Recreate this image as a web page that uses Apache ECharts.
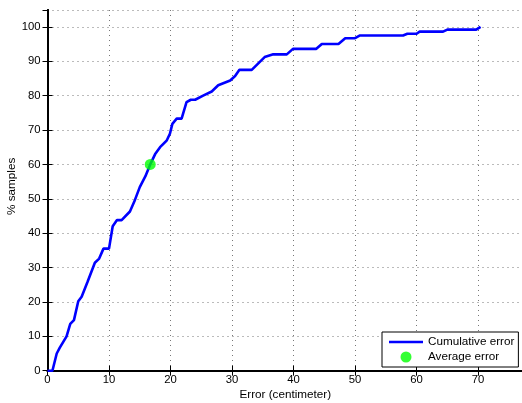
<!DOCTYPE html>
<html>
<head>
<meta charset="utf-8">
<script src="https://cdn.jsdelivr.net/npm/echarts@6/dist/echarts.min.js"></script>
<style>
html,body{margin:0;padding:0;background:#fff;}
#c{width:522px;height:403px;}
</style>
</head>
<body>
<div id="c"></div>
<script>
// Cumulative error curve (x: error in cm, y: % samples)
var errorCm = [0, 0.8, 1.5, 2.0, 3.1, 3.7, 4.3, 5.0, 5.55, 6.5, 7.7, 8.4, 9.1, 10.0, 10.6, 11.3, 12.05, 13.4, 14.2, 15.0, 15.9, 16.7, 17.5, 18.3, 19.4, 19.9, 20.3, 21.0, 21.8, 22.6, 23.3, 24.0, 25.3, 26.7, 27.75, 29.7, 30.5, 31.2, 33.2, 35.3, 36.7, 38.9, 39.9, 43.7, 44.6, 47.3, 48.4, 50.0, 50.8, 57.8, 58.5, 60.0, 60.5, 64.3, 65.0, 69.7, 70.4];
var pctSamples = [0, 0, 5.0, 6.7, 10.0, 13.6, 14.7, 20.2, 21.5, 25.8, 31.4, 32.6, 35.5, 35.5, 42.0, 43.8, 43.8, 46.3, 49.6, 53.4, 56.5, 60.0, 63.0, 65.0, 67.0, 68.9, 71.8, 73.3, 73.3, 78.1, 78.8, 78.8, 80.0, 81.2, 83.0, 84.4, 85.7, 87.5, 87.5, 91.2, 92.0, 92.0, 93.6, 93.6, 95.0, 95.0, 96.7, 96.7, 97.5, 97.5, 98.0, 98.0, 98.6, 98.6, 99.2, 99.2, 100];
var averageError = [16.7, 60];
var seriesNames = ['Cumulative error', 'Average error'];
var xTitle = 'Error (centimeter)';
var yTitle = '% samples';

var curve = errorCm.map(function (x, i) { return [x, pctSamples[i]]; });
var FONT = 'Liberation Sans, Arial, sans-serif';
var XMAX = 77.3, YMAX = 104.9;

function tickFmt(v) { return (Math.abs(v - Math.round(v / 10) * 10) < 1e-6) ? String(Math.round(v)) : ''; }

var chart = echarts.init(document.getElementById('c'), null, {renderer: 'canvas'});
chart.setOption({
  animation: false,
  backgroundColor: '#ffffff',
  grid: {left: 47.5, top: 10, right: -1, bottom: 32.3, containLabel: false, outerBoundsMode: 'none'},
  xAxis: [{
    type: 'value', min: 0, max: XMAX, interval: 10,
    name: xTitle, nameLocation: 'middle', nameGap: 18, nameMoveOverlap: false,
    nameTextStyle: {fontFamily: FONT, fontSize: 11.7, color: '#000'},
    axisLine: {show: true, onZero: false, lineStyle: {color: '#000', width: 2}},
    axisTick: {show: true, inside: true, length: 5, lineStyle: {color: '#000', width: 1}},
    axisLabel: {fontFamily: FONT, fontSize: 11.3, color: '#000', margin: 4, formatter: tickFmt, showMaxLabel: false},
    splitLine: {show: true, lineStyle: {color: '#777', width: 1, type: [1, 4]}}
  }, {
    type: 'value', min: 0, max: XMAX, interval: 10, position: 'top',
    axisLine: {show: true, lineStyle: {color: '#000', width: 2}},
    axisTick: {show: true, inside: true, length: 5, lineStyle: {color: '#000', width: 1}},
    axisLabel: {show: false}, splitLine: {show: false}
  }],
  yAxis: [{
    type: 'value', min: 0, max: YMAX, interval: 10,
    name: yTitle, nameLocation: 'middle', nameGap: 30, nameRotate: 90, nameMoveOverlap: false,
    nameTextStyle: {fontFamily: FONT, fontSize: 11.7, color: '#000', padding: [0, 0, 0, 8]},
    axisLine: {show: true, onZero: false, lineStyle: {color: '#000', width: 2}},
    axisTick: {show: true, inside: true, length: 5, lineStyle: {color: '#000', width: 1}},
    axisLabel: {fontFamily: FONT, fontSize: 11.3, color: '#000', margin: 7, formatter: tickFmt, showMaxLabel: false},
    splitLine: {show: true, lineStyle: {color: '#777', width: 1, type: [1, 4]}}
  }, {
    type: 'value', min: 0, max: YMAX, interval: 10, position: 'right',
    axisLine: {show: true, lineStyle: {color: '#000', width: 2}},
    axisTick: {show: true, inside: true, length: 5, lineStyle: {color: '#000', width: 1}},
    axisLabel: {show: false}, splitLine: {show: false}
  }],
  legend: {
    orient: 'vertical', left: 382, top: 332,
    data: [
      {name: seriesNames[0], icon: 'path://M0,0 L34,0 L34,2.5 L0,2.5 Z'},
      {name: seriesNames[1], icon: 'circle'}
    ],
    itemWidth: 34, itemHeight: 11, itemGap: 3,
    padding: [4, 4, 4, 7],
    borderColor: '#000', borderWidth: 1, borderRadius: 0,
    backgroundColor: '#fff',
    textStyle: {fontFamily: FONT, fontSize: 11.7, color: '#000'}
  },
  series: [{
    name: seriesNames[0], type: 'line', data: curve,
    symbol: 'none', showSymbol: false, smooth: false,
    lineStyle: {color: '#0000ff', width: 2.6},
    itemStyle: {color: '#0000ff'},
    z: 3
  }, {
    name: seriesNames[1], type: 'scatter', data: [averageError],
    symbol: 'circle', symbolSize: 11,
    itemStyle: {color: '#00ff00'},
    z: 4
  }]
});
</script>
</body>
</html>
